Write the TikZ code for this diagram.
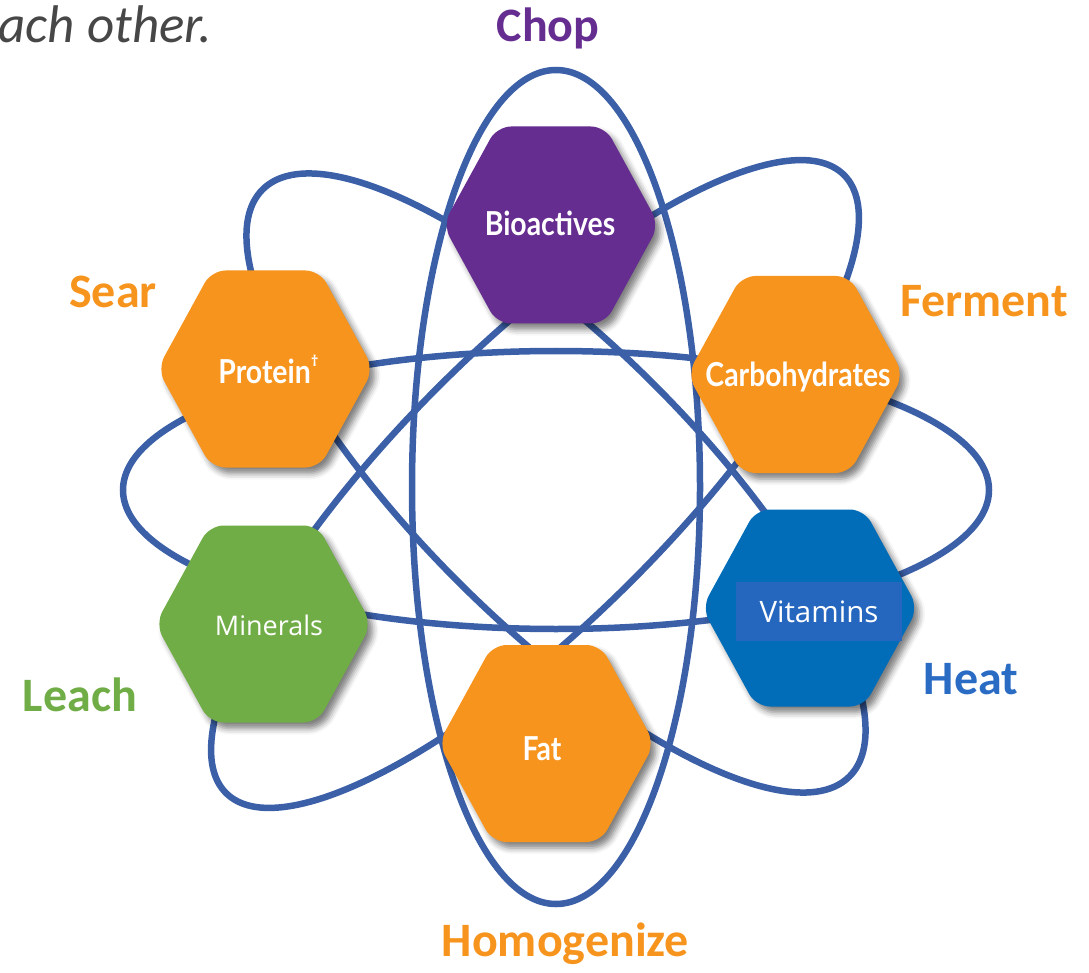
\documentclass[tikz,border=0pt]{standalone}
\usepackage{fontspec}
\setmainfont{Carlito}
\newfontfamily\hexfont[FakeStretch=0.86]{Lato}
\newfontfamily\lightfont{Open Sans}
\usetikzlibrary{shadows.blur}
\definecolor{ring}{HTML}{3B60A8}
\definecolor{purp}{HTML}{662D91}
\definecolor{orng}{HTML}{F7941D}
\definecolor{grn}{HTML}{70AD47}
\definecolor{vit}{HTML}{016DB8}
\definecolor{vitbox}{HTML}{2566BF}
\definecolor{heatblue}{HTML}{2A6BC4}
\definecolor{introgray}{HTML}{474747}
\tikzset{
  ringline/.style={draw=ring, line width=6.5pt},
  hexshadow/.style={blur shadow={shadow xshift=5pt, shadow yshift=-6pt, shadow blur radius=6pt, shadow opacity=50}},
  hexlabel/.style={text=white, font=\hexfont\bfseries\fontsize{33}{36}\selectfont, anchor=base, inner sep=0pt},
  softlabel/.style={text=white, font=\lightfont\fontsize{27}{30}\selectfont, anchor=base, inner sep=0pt},
  outerlabel/.style={font=\bfseries\fontsize{48}{56}\selectfont, anchor=base, inner sep=0pt},
}
\newcommand\hexagonat[3]{%
  \fill[#3, hexshadow, rounded corners=14pt]
    (#1,#2-98.5) -- (#1+54,#2-98.5) -- (#1+108,#2) -- (#1+54,#2+98.5)
    -- (#1-54,#2+98.5) -- (#1-108,#2) -- (#1-54,#2-98.5) -- cycle;}
\begin{document}
\begin{tikzpicture}[x=1pt,y=-1pt]
\useasboundingbox (0,0) rectangle (1089,973);
% orbits
\draw[ringline] (556,487) ellipse [x radius=144, y radius=417];
\draw[ringline] (556,490) ellipse [x radius=433, y radius=139];
\draw[ringline, rotate around={-45:(556,483)}] (556,483) ellipse [x radius=415, y radius=139];
\draw[ringline, rotate around={45:(535,484)}] (535,484) ellipse [x radius=437, y radius=137];
% hexagons
\hexagonat{551}{225}{purp}
\hexagonat{265.5}{369}{orng}
\hexagonat{795.5}{374.5}{orng}
\hexagonat{263.5}{624}{grn}
\hexagonat{810}{608}{vit}
\hexagonat{546.5}{743.5}{orng}
% hexagon labels
\node[hexlabel] (bio) at (550,236) {Bioactives};
\node[hexlabel] (protein) at (268.5,383) {Protein\raisebox{0.5em}{\lightfont\fontsize{15}{15}\selectfont †}};
\node[hexlabel] (carb) at (798,386) {Carbohydrates};
\node[hexlabel] (fat) at (542,760) {Fat};
\node[softlabel] (minerals) at (269,635) {Minerals};
\node[softlabel, anchor=center, fill=vitbox, minimum width=166pt, minimum height=59pt,
      font=\lightfont\fontsize{29.5}{32}\selectfont] (vitamins) at (819,611.5) {Vitamins};
% outer labels
\node[font=\itshape\fontsize{53}{58}\selectfont, text=introgray, anchor=base east, inner sep=0pt] (intro) at (212,43) {each other.};
\node[outerlabel, text=purp] (chop) at (548,42) {Chop};
\node[outerlabel, text=orng] (sear) at (113,308) {Sear};
\node[outerlabel, text=orng] (ferment) at (984,317) {Ferment};
\node[outerlabel, text=grn] (leach) at (80,711) {Leach};
\node[outerlabel, text=heatblue] (heat) at (971,694) {Heat};
\node[outerlabel, text=orng] (homog) at (565.5,956) {Homogenize};
\end{tikzpicture}
\end{document}
